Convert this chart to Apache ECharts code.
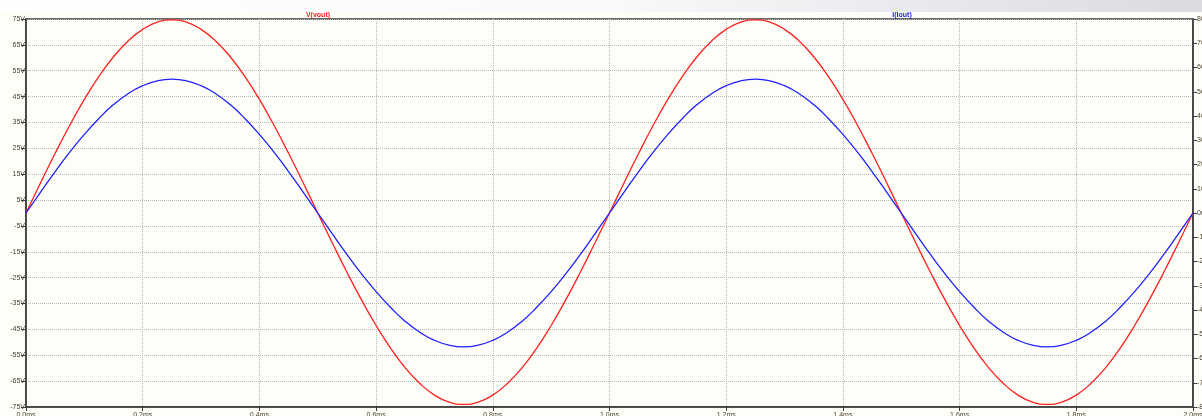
<!DOCTYPE html>
<html>
<head>
<meta charset="utf-8">
<script src="https://cdn.jsdelivr.net/npm/echarts@6/dist/echarts.min.js"></script>
<style>
html,body{margin:0;padding:0;background:#fefef8;}
#chart{width:1202px;height:416px;}
</style>
</head>
<body>
<div id="chart"></div>
<script>
// time axis (ms)
const timeMs = [0,0.025,0.05,0.075,0.1,0.125,0.15,0.175,0.2,0.225,0.25,0.275,0.3,0.325,0.35,0.375,0.4,0.425,0.45,0.475,0.5,
0.525,0.55,0.575,0.6,0.625,0.65,0.675,0.7,0.725,0.75,0.775,0.8,0.825,0.85,0.875,0.9,0.925,0.95,0.975,1.0,
1.025,1.05,1.075,1.1,1.125,1.15,1.175,1.2,1.225,1.25,1.275,1.3,1.325,1.35,1.375,1.4,1.425,1.45,1.475,1.5,
1.525,1.55,1.575,1.6,1.625,1.65,1.675,1.7,1.725,1.75,1.775,1.8,1.825,1.85,1.875,1.9,1.925,1.95,1.975,2.0];

// V(vout) in volts
const vout = [0,11.7,23.1,33.9,43.9,52.8,60.4,66.5,71.0,73.8,74.7,73.8,71.0,66.5,60.4,52.8,43.9,33.9,23.1,11.7,0,
-11.6,-22.9,-33.6,-43.5,-52.3,-59.9,-65.9,-70.4,-73.1,-74,-73.1,-70.4,-65.9,-59.9,-52.3,-43.5,-33.6,-22.9,-11.6,0,
11.7,23.1,33.9,43.9,52.8,60.4,66.5,71.0,73.8,74.7,73.8,71.0,66.5,60.4,52.8,43.9,33.9,23.1,11.7,0,
-11.6,-22.9,-33.6,-43.5,-52.3,-59.9,-65.9,-70.4,-73.1,-74,-73.1,-70.4,-65.9,-59.9,-52.3,-43.5,-33.6,-22.9,-11.6,0];

// I(Iout) in mA
const iout = [0,86,171,251,324,390,447,492,525,545,552,545,525,492,447,390,324,251,171,86,0,
-86,-171,-251,-324,-390,-447,-492,-525,-545,-552,-545,-525,-492,-447,-390,-324,-251,-171,-86,0,
86,171,251,324,390,447,492,525,545,552,545,525,492,447,390,324,251,171,86,0,
-86,-171,-251,-324,-390,-447,-492,-525,-545,-552,-545,-525,-492,-447,-390,-324,-251,-171,-86,0];

// left axis tick values (V)
const leftTicks = [-75,-65,-55,-45,-35,-25,-15,-5,5,15,25,35,45,55,65,75];

const seriesNames = ['V(vout)', 'I(Iout)'];

const chart = echarts.init(document.getElementById('chart'), null, {renderer:'canvas'});
const labelColor = '#4a4030';
const axisColor = '#3a3a3a';
const font = 'Liberation Sans';

chart.setOption({
  animation:false,
  backgroundColor:'#fefef8',
  grid:{left:26,right:9,top:19,bottom:9,containLabel:false,outerBoundsMode:'none',show:true,backgroundColor:'#fefef8',borderColor:axisColor,borderWidth:1.5},
  graphic:[
    {type:'rect',z:-1,shape:{x:0,y:0,width:1202,height:12},
     style:{fill:new echarts.graphic.LinearGradient(0,0,1,0,[{offset:0,color:'#ffffff'},{offset:0.5,color:'#fafafb'},{offset:1,color:'#d9dbe0'}])}},
    {type:'text',x:318,y:12,style:{text:seriesNames[0],fill:'#ff2020',font:'bold 7px "Liberation Sans"',textAlign:'center',textVerticalAlign:'top'}},
    {type:'text',x:902,y:12,style:{text:seriesNames[1],fill:'#2020ff',font:'bold 7px "Liberation Sans"',textAlign:'center',textVerticalAlign:'top'}}
  ],
  xAxis:{type:'value',min:0,max:2,interval:0.2,
    axisLine:{show:true,onZero:false,lineStyle:{color:axisColor,width:1.5}},
    axisTick:{show:true,length:4,lineStyle:{color:axisColor}},
    axisLabel:{margin:5,fontSize:7,fontFamily:font,color:labelColor,formatter:v=>v.toFixed(1)+'ms'},
    splitLine:{show:true,lineStyle:{type:'dotted',color:'#b8b8b8',width:1}}
  },
  yAxis:[
    {type:'value',min:-75,max:75,position:'left',
     axisLine:{show:true,onZero:false,lineStyle:{color:axisColor,width:1.5}},
     axisTick:{show:true,length:5,customValues:leftTicks,lineStyle:{color:axisColor}},
     axisLabel:{margin:1,fontSize:7,fontFamily:font,color:labelColor,customValues:leftTicks,formatter:v=>v+'V'},
     splitLine:{show:true,lineStyle:{type:'dotted',color:'#b8b8b8',width:1}}
    },
    {type:'value',min:-800,max:800,interval:100,position:'right',
     axisLine:{show:true,onZero:false,lineStyle:{color:axisColor,width:1.5}},
     axisTick:{show:true,length:4,lineStyle:{color:axisColor}},
     axisLabel:{margin:4,fontSize:7,fontFamily:font,color:labelColor,formatter:v=>v+'mA'},
     splitLine:{show:false}
    }
  ],
  series:[
    {name:seriesNames[0],type:'line',yAxisIndex:0,smooth:true,symbol:'none',
     data:timeMs.map((t,i)=>[t,vout[i]]),lineStyle:{color:'#ff2020',width:1.3}},
    {name:seriesNames[1],type:'line',yAxisIndex:1,smooth:true,symbol:'none',
     data:timeMs.map((t,i)=>[t,iout[i]]),lineStyle:{color:'#2020ff',width:1.3}}
  ]
});
</script>
</body>
</html>
